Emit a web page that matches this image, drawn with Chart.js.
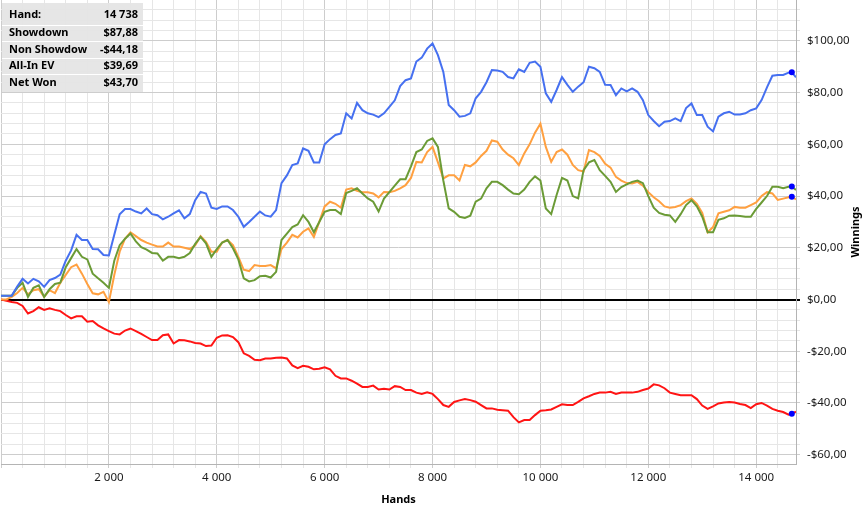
<!DOCTYPE html>
<html>
<head>
<meta charset="utf-8">
<script src="https://cdn.jsdelivr.net/npm/chart.js@4/dist/chart.umd.min.js"></script>
<style>
  html, body { margin: 0; padding: 0; background: #fff; }
  #wrap { width: 867px; height: 509px; }
</style>
</head>
<body>
<div id="wrap"><canvas id="graph" width="867" height="509"></canvas></div>
<script>
// x: hands played
const hands = [0, 100, 200, 300, 400, 500, 600, 700, 800, 900,
  1000, 1100, 1200, 1300, 1400, 1500, 1600, 1700, 1800, 1900,
  2000, 2100, 2200, 2300, 2400, 2500, 2600, 2700, 2800, 2900,
  3000, 3100, 3200, 3300, 3400, 3500, 3600, 3700, 3800, 3900,
  4000, 4100, 4200, 4300, 4400, 4500, 4600, 4700, 4800, 4900,
  5000, 5100, 5200, 5300, 5400, 5500, 5600, 5700, 5800, 5900,
  6000, 6100, 6200, 6300, 6400, 6500, 6600, 6700, 6800, 6900,
  7000, 7100, 7200, 7300, 7400, 7500, 7600, 7700, 7800, 7900,
  8000, 8100, 8200, 8300, 8400, 8500, 8600, 8700, 8800, 8900,
  9000, 9100, 9200, 9300, 9400, 9500, 9600, 9700, 9800, 9900,
  10000, 10100, 10200, 10300, 10400, 10500, 10600, 10700, 10800, 10900,
  11000, 11100, 11200, 11300, 11400, 11500, 11600, 11700, 11800, 11900,
  12000, 12100, 12200, 12300, 12400, 12500, 12600, 12700, 12800, 12900,
  13000, 13100, 13200, 13300, 13400, 13500, 13600, 13700, 13800, 13900,
  14000, 14100, 14200, 14300, 14400, 14500, 14600, 14660, 14738];

// winnings in $
const showdown = [1.5, 1.5, 1.5, 5, 8, 6.2, 8, 7, 4.9, 7.5,
  8.3, 9.6, 15, 19, 25, 23, 23, 19.5, 19.4, 17.2,
  17, 25, 33, 35, 35, 34, 33.3, 35.2, 33, 32.6,
  31, 32, 33.3, 34.5, 31.4, 33, 38.4, 41.6, 41, 35.5,
  35, 36, 36, 34.6, 32, 28.1, 30, 32, 34, 32.5,
  32, 34.6, 45, 48, 52, 52.6, 58.4, 57.5, 53, 53,
  60, 62, 63.6, 64.2, 72, 70, 76, 73.2, 72, 71.5,
  70.5, 72, 74.5, 77, 82.5, 84.8, 85.5, 92, 93.5, 97,
  99, 94.5, 88, 75.2, 73.2, 70.7, 71, 72, 77.8, 80.3,
  84, 88.7, 88.5, 88, 86, 85.5, 89, 88, 91.5, 92,
  90, 79.7, 76.4, 81, 86, 83, 80.3, 82.3, 84, 90,
  89.4, 88, 83, 82.9, 79, 81.6, 80.5, 81.6, 80.3, 77.1,
  71.3, 69, 67, 68.7, 69, 70, 69, 74, 75.8, 71.3,
  71.3, 66.8, 65, 70.7, 72, 72.6, 71.5, 71.5, 72, 73.2,
  73.9, 77.1, 82, 86.5, 86.8, 86.8, 87.7, 87.88, 85.9];

const nonShowdown = [0, -0.5, -1, -1.3, -2.5, -5.4, -4.5, -3, -4, -3.4,
  -4, -4.5, -6, -7.3, -6.5, -6.5, -8.6, -8.3, -10, -11.2,
  -12.2, -13.2, -13.5, -12, -11.2, -12.2, -13.3, -14.5, -15.7, -15.7,
  -13.8, -13.5, -17, -15.7, -15.8, -16.2, -16.8, -17, -18, -17.8,
  -14.8, -13.9, -13.8, -14.5, -16.5, -20.8, -21.8, -23.3, -23.5, -22.8,
  -22.8, -22.5, -22.4, -22.8, -25.5, -26.5, -25.6, -26, -27, -26.8,
  -26.2, -27, -29.5, -30.5, -30.5, -31.4, -32.5, -33.8, -33.8, -33.3,
  -34.8, -34.5, -34.8, -33.5, -33.8, -35, -35, -36, -36.5, -35.9,
  -36.5, -38.5, -40.8, -41.5, -39.6, -39, -38.5, -38.9, -39.5, -40.8,
  -42.1, -42.1, -42.6, -42.8, -43, -45.5, -47.5, -46.6, -46.6, -44.7,
  -43, -42.8, -42.5, -41.5, -40.5, -40.8, -40.8, -39.6, -38.2, -37.4,
  -36.5, -36, -36, -35.7, -36.5, -36, -36, -36, -35.7, -35,
  -34.4, -32.8, -33.2, -34.3, -36, -36.5, -37, -37, -37, -38.5,
  -41, -42.3, -41.3, -40.2, -39.8, -39.6, -39.8, -40.4, -40.8, -42,
  -40.5, -40, -41, -42.3, -43, -43.5, -44.5, -44.18, -43.4];

const allInEV = [0, 0, 1, 2.5, 4.5, 2, 3.6, 4, 1, 3.6,
  2.5, 6.5, 9.5, 12.5, 13.5, 10, 6, 2.4, 2, 3,
  -1, 9.5, 18.5, 23.5, 26, 24.5, 23, 22, 21.2, 20.5,
  20.5, 22, 20.5, 20.5, 20, 19.5, 21, 24.5, 22.3, 18.5,
  18.5, 22, 23, 21, 16.5, 11.5, 11, 13.3, 13, 13,
  13.3, 12, 19.5, 22, 25, 24, 26.2, 27.5, 24.2, 30,
  36, 37.8, 37, 35.5, 42.5, 43, 42, 41.5, 41.5, 41,
  39.5, 41.6, 41.5, 42, 43, 44.2, 47, 53.2, 53, 57,
  59, 53, 46.8, 48, 48, 46, 52, 51.5, 53, 55.5,
  57.5, 61.5, 61, 58, 56, 54.6, 52, 56.5, 60, 64.5,
  68, 59, 53.2, 57, 58, 56, 52, 50, 49.5, 57.8,
  57, 55.5, 52.5, 51, 47.4, 46, 45, 44.9, 45.5, 44,
  41.5, 39.5, 38, 36, 35.5, 35.8, 36.5, 38, 39.1, 37,
  33.5, 26, 28, 33.3, 33.9, 34.5, 35.8, 35.5, 35.5, 36.5,
  37.5, 40, 41.5, 41, 38.5, 39, 39.5, 39.69, 38.7];

const netWon = [1.5, 1.5, 1.5, 4.5, 6.5, 1, 4.5, 5.5, 1, 4,
  6, 6.5, 12.5, 16, 19.5, 16.5, 15.5, 10, 8.2, 6.5,
  4.5, 15, 21, 23.5, 25.5, 22.5, 20.2, 19.3, 18, 17.8,
  15, 16.5, 16.5, 16, 16.5, 18, 21.5, 24.2, 21.7, 16.5,
  19.5, 22, 23, 19.8, 15.5, 8.2, 7, 7.5, 9, 9.2,
  8.5, 10.7, 23, 25.5, 28, 29, 32.6, 30, 26, 30,
  33.9, 34.6, 34.6, 33, 41.2, 42, 43, 41, 39.1, 37.8,
  34, 39, 41.5, 44, 46.5, 46.5, 51.5, 57, 58, 61.3,
  62.3, 59, 46, 35.2, 33.9, 32, 31.5, 32.4, 37.8, 39,
  43, 45.5, 45.5, 44.2, 42.5, 41, 40.7, 42.5, 45.5, 47.6,
  46, 35.2, 33, 40.4, 47, 46, 40, 39.1, 50, 53,
  53.9, 50, 47.8, 45.5, 41.6, 43.5, 44.5, 45.5, 46, 45,
  40, 35.5, 33.5, 32.8, 32.5, 30, 33, 36.5, 38.4, 36,
  32, 26, 26, 30.8, 31.4, 32.4, 32.5, 32.3, 32, 32,
  35, 37.5, 40, 43.6, 43.6, 43, 43.6, 43.70, 42.3];

// summary box
const infoLabels = ['Hand:', 'Showdown', 'Non Showdown', 'All-In EV', 'Net Won'];
const infoValues = ['14 738', '$87,88', '-$44,18', '$39,69', '$43,70'];

const markerIndex = hands.indexOf(14660);
const FONT = "'Noto Sans', 'DejaVu Sans', sans-serif";

function money(v) {
    const s = Math.abs(v).toFixed(2).replace('.', ',');
    return (v < 0 ? '-$' : '$') + s;
}
function handsFmt(v) {
    return String(v).replace(/\B(?=(\d{3})+(?!\d))/g, ' ');
}
function pts(values) {
    return hands.map((h, i) => ({ x: h, y: values[i] }));
}
function serie(label, values, color) {
    return {
        label: label,
        data: pts(values),
        borderColor: color,
        borderWidth: 2,
        tension: 0,
        pointRadius: c => c.dataIndex === markerIndex ? 3 : 0,
        pointBackgroundColor: '#0000ff',
        pointBorderColor: '#0000ff',
        pointBorderWidth: 0
    };
}
// regular tick grid (every 400 hands / every $4)
function tickRange(from, to, step) {
    const t = [];
    for (let v = from; v <= to; v += step) t.push({ value: v });
    return t;
}

// axis titles + summary box
const extras = {
    id: 'extras',
    afterDraw(chart) {
        const ctx = chart.ctx;
        const a = chart.chartArea;
        ctx.save();
        ctx.fillStyle = '#000';
        ctx.font = 'bold 11px ' + FONT;
        ctx.textAlign = 'center';
        ctx.textBaseline = 'middle';
        ctx.fillText('Hands', (a.left + a.right) / 2, 500);
        ctx.translate(856, (a.top + a.bottom) / 2);
        ctx.rotate(-Math.PI / 2);
        ctx.fillText('Winnings', 0, 0);
        ctx.restore();

        ctx.save();
        ctx.fillStyle = 'rgba(229,229,229,0.96)';
        ctx.fillRect(2, 3, 141, 89);
        ctx.strokeStyle = '#ffffff';
        ctx.lineWidth = 1;
        [25.5, 41.5, 58.5, 74.5].forEach(y => {
            ctx.beginPath(); ctx.moveTo(2, y); ctx.lineTo(143, y); ctx.stroke();
        });
        const rowsY = [15, 33, 49.5, 66, 82.5];
        ctx.font = 'bold 11px ' + FONT;
        ctx.textBaseline = 'middle';
        ctx.fillStyle = '#000';
        infoLabels.forEach((t, i) => {
            ctx.save();
            ctx.beginPath(); ctx.rect(2, 3, 85, 89); ctx.clip();
            ctx.textAlign = 'left';
            ctx.fillText(t, 9, rowsY[i]);
            ctx.restore();
            ctx.textAlign = 'right';
            ctx.fillText(infoValues[i], 138, rowsY[i]);
        });
        ctx.restore();
    }
};

new Chart(document.getElementById('graph'), {
    type: 'line',
    data: {
        datasets: [
            serie('Showdown', showdown, '#4670f0'),
            serie('Net Won', netWon, '#6b9b36'),
            serie('All-In EV', allInEV, '#ffa040'),
            serie('Non Showdown', nonShowdown, '#ff1414')
        ]
    },
    options: {
        responsive: false,
        animation: false,
        devicePixelRatio: 1,
        layout: { padding: { left: 1, top: 0, right: 0, bottom: 0 } },
        plugins: { legend: { display: false }, tooltip: { enabled: false } },
        scales: {
            x: {
                type: 'linear',
                position: 'bottom',
                min: 0,
                max: 14738,
                afterBuildTicks: s => { s.ticks = tickRange(0, 14400, 400); },
                afterFit: s => { s.height = 45; s.paddingLeft = 0; s.paddingRight = 0; },
                border: { color: '#b4b4b4' },
                grid: {
                    color: c => (c.tick && c.tick.value % 2000 === 0) ? '#cdcdcd' : '#e6e6e6',
                    tickLength: 4
                },
                ticks: {
                    autoSkip: false,
                    maxRotation: 0,
                    padding: 3,
                    color: '#1a1a1a',
                    font: { family: FONT, size: 11.5 },
                    callback: v => (v > 0 && v % 2000 === 0) ? handsFmt(v) : ''
                }
            },
            y: {
                type: 'linear',
                position: 'right',
                min: -63.6,
                max: 115.8,
                afterBuildTicks: s => { s.ticks = tickRange(-60, 112, 4); },
                afterFit: s => { s.width = 71; s.paddingTop = 0; s.paddingBottom = 0; },
                border: { color: '#b4b4b4' },
                grid: {
                    color: c => {
                        if (!c.tick) return '#e6e6e6';
                        if (c.tick.value === 0) return '#000000';
                        return c.tick.value % 20 === 0 ? '#cdcdcd' : '#e6e6e6';
                    },
                    lineWidth: c => (c.tick && c.tick.value === 0) ? 2 : 1,
                    tickLength: 4
                },
                ticks: {
                    autoSkip: false,
                    padding: 7,
                    color: '#1a1a1a',
                    font: { family: FONT, size: 11.5 },
                    callback: v => v % 20 === 0 ? money(v) : ''
                }
            }
        }
    },
    plugins: [extras]
});
</script>
</body>
</html>
